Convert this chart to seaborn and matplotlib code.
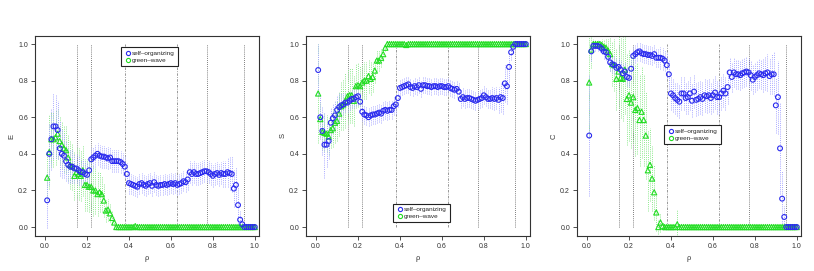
import numpy as np
import matplotlib
matplotlib.use("Agg")
import matplotlib.pyplot as plt
from matplotlib.lines import Line2D
import seaborn as sns

rho = [round(0.01 * i, 2) for i in range(1, 101)]

# E panel
e_self = [0.146, 0.40, 0.48, 0.55, 0.55, 0.53, 0.43, 0.40, 0.39, 0.36,
          0.34, 0.33, 0.33, 0.32, 0.32, 0.31, 0.30, 0.30, 0.29, 0.285,
          0.31, 0.37, 0.38, 0.39, 0.40, 0.39, 0.385, 0.385, 0.38, 0.375,
          0.38, 0.36, 0.36, 0.36, 0.36, 0.355, 0.345, 0.33, 0.29, 0.24,
          0.235, 0.23, 0.225, 0.22, 0.235, 0.24, 0.23, 0.225, 0.235, 0.24,
          0.225, 0.245, 0.23, 0.225, 0.23, 0.23, 0.235, 0.23, 0.235, 0.24,
          0.235, 0.24, 0.23, 0.235, 0.24, 0.25, 0.245, 0.26, 0.30, 0.29,
          0.30, 0.29, 0.29, 0.295, 0.30, 0.305, 0.305, 0.30, 0.29, 0.28,
          0.29, 0.295, 0.285, 0.295, 0.29, 0.29, 0.30, 0.295, 0.29, 0.21,
          0.23, 0.12, 0.04, 0.015, 0.0, 0.0, 0.0, 0.0, 0.0, 0.0]
e_self_err = [0.15, 0.17, 0.17, 0.18, 0.17, 0.16, 0.15, 0.13, 0.12, 0.11,
              0.10, 0.09, 0.09, 0.08, 0.08, 0.08, 0.07, 0.07, 0.07, 0.07,
              0.07, 0.06, 0.06, 0.06, 0.06, 0.06, 0.06, 0.06, 0.06, 0.06,
              0.06, 0.06, 0.06, 0.06, 0.06, 0.06, 0.06, 0.06, 0.06, 0.06,
              0.055, 0.055, 0.055, 0.055, 0.055, 0.055, 0.055, 0.055, 0.055, 0.055,
              0.055, 0.055, 0.055, 0.055, 0.055, 0.055, 0.055, 0.055, 0.055, 0.055,
              0.055, 0.055, 0.055, 0.055, 0.055, 0.055, 0.055, 0.06, 0.06, 0.06,
              0.06, 0.06, 0.06, 0.06, 0.06, 0.06, 0.06, 0.06, 0.06, 0.06,
              0.06, 0.06, 0.06, 0.06, 0.07, 0.07, 0.08, 0.09, 0.10, 0.10,
              0.10, 0.10, 0.05, 0.02, 0.0, 0.0, 0.0, 0.0, 0.0, 0.0]
e_green = [0.27, 0.41, 0.48, 0.48, 0.49, 0.51, 0.47, 0.45, 0.43, 0.42,
           0.38, 0.34, 0.33, 0.28, 0.30, 0.29, 0.28, 0.31, 0.23, 0.23,
           0.22, 0.22, 0.20, 0.20, 0.18, 0.19, 0.18, 0.145, 0.09, 0.095,
           0.075, 0.05, 0.025, 0.0, 0.0, 0.0, 0.0, 0.0, 0.0, 0.0,
           0.0, 0.0, 0.005] + [0.0] * 57
e_green_err = [0.12, 0.20, 0.15, 0.15, 0.15, 0.14, 0.13, 0.13, 0.13, 0.13,
               0.13, 0.13, 0.13, 0.13, 0.14, 0.14, 0.14, 0.14, 0.14, 0.14,
               0.14, 0.14, 0.14, 0.13, 0.12, 0.11, 0.10, 0.09, 0.06, 0.06,
               0.05, 0.04, 0.03, 0.01, 0.0, 0.0, 0.0, 0.0, 0.0, 0.0,
               0.0, 0.0, 0.01] + [0.0] * 57

# S panel
s_self = [0.858, 0.60, 0.525, 0.45, 0.45, 0.47, 0.57, 0.595, 0.61, 0.64,
          0.655, 0.665, 0.67, 0.68, 0.68, 0.69, 0.70, 0.70, 0.71, 0.715,
          0.685, 0.63, 0.615, 0.61, 0.60, 0.61, 0.615, 0.615, 0.62, 0.625,
          0.62, 0.635, 0.64, 0.635, 0.64, 0.64, 0.66, 0.67, 0.705, 0.76,
          0.765, 0.77, 0.775, 0.78, 0.765, 0.76, 0.77, 0.765, 0.775, 0.755,
          0.775, 0.775, 0.77, 0.77, 0.765, 0.77, 0.77, 0.765, 0.77, 0.77,
          0.765, 0.765, 0.77, 0.76, 0.755, 0.75, 0.755, 0.74, 0.70, 0.71,
          0.70, 0.705, 0.705, 0.70, 0.695, 0.69, 0.695, 0.70, 0.705, 0.72,
          0.71, 0.70, 0.70, 0.705, 0.70, 0.705, 0.695, 0.71, 0.705, 0.785,
          0.77, 0.875, 0.955, 0.985, 1.0, 1.0, 1.0, 1.0, 1.0, 1.0]
s_self_err = [0.14, 0.12, 0.13, 0.18, 0.12, 0.10, 0.08, 0.08, 0.08, 0.08,
              0.08, 0.07, 0.06, 0.05, 0.05, 0.05, 0.05, 0.05, 0.05, 0.05,
              0.05, 0.05, 0.05, 0.05, 0.05, 0.05, 0.05, 0.05, 0.05, 0.05,
              0.05, 0.05, 0.05, 0.05, 0.05, 0.05, 0.05, 0.05, 0.05, 0.045,
              0.045, 0.045, 0.045, 0.045, 0.045, 0.045, 0.045, 0.045, 0.045, 0.045,
              0.045, 0.045, 0.045, 0.045, 0.045, 0.045, 0.045, 0.045, 0.045, 0.045,
              0.045, 0.045, 0.045, 0.045, 0.045, 0.045, 0.045, 0.05, 0.05, 0.05,
              0.05, 0.05, 0.05, 0.05, 0.05, 0.05, 0.05, 0.05, 0.05, 0.05,
              0.05, 0.05, 0.05, 0.06, 0.06, 0.06, 0.07, 0.08, 0.09, 0.10,
              0.10, 0.08, 0.04, 0.02, 0.0, 0.0, 0.0, 0.0, 0.0, 0.0]
s_green = [0.73, 0.59, 0.52, 0.515, 0.51, 0.495, 0.53, 0.54, 0.57, 0.58,
           0.62, 0.66, 0.67, 0.69, 0.715, 0.72, 0.72, 0.69, 0.77, 0.775,
           0.77, 0.79, 0.80, 0.80, 0.825, 0.81, 0.82, 0.855, 0.91, 0.91,
           0.925, 0.945, 0.98, 1.0, 1.0, 1.0, 1.0, 1.0, 1.0, 1.0,
           1.0, 1.0, 0.995] + [1.0] * 57
s_green_err = [0.27, 0.10, 0.10, 0.10, 0.10, 0.10, 0.10, 0.10, 0.11, 0.11,
               0.12, 0.13, 0.14, 0.15, 0.15, 0.15, 0.15, 0.14, 0.12, 0.12,
               0.11, 0.10, 0.10, 0.10, 0.09, 0.09, 0.08, 0.07, 0.06, 0.06,
               0.05, 0.04, 0.02, 0.0, 0.0, 0.0, 0.0, 0.0, 0.0, 0.0,
               0.0, 0.0, 0.01] + [0.0] * 57

# C panel
c_self = [0.50, 0.96, 0.99, 0.99, 0.99, 0.985, 0.975, 0.96, 0.955, 0.93,
          0.90, 0.89, 0.885, 0.87, 0.875, 0.86, 0.84, 0.85, 0.82, 0.815,
          0.865, 0.935, 0.945, 0.955, 0.96, 0.95, 0.945, 0.945, 0.94, 0.94,
          0.935, 0.945, 0.925, 0.925, 0.925, 0.92, 0.91, 0.885, 0.835, 0.73,
          0.72, 0.705, 0.695, 0.685, 0.73, 0.73, 0.705, 0.71, 0.73, 0.69,
          0.74, 0.695, 0.70, 0.71, 0.70, 0.72, 0.715, 0.72, 0.705, 0.72,
          0.735, 0.71, 0.71, 0.73, 0.745, 0.73, 0.765, 0.845, 0.82, 0.845,
          0.835, 0.835, 0.83, 0.84, 0.845, 0.85, 0.845, 0.83, 0.805, 0.82,
          0.83, 0.84, 0.835, 0.83, 0.84, 0.845, 0.825, 0.835, 0.835, 0.665,
          0.71, 0.43, 0.155, 0.055, 0.0, 0.0, 0.0, 0.0, 0.0, 0.0]
c_self_err = [0.33, 0.05, 0.03, 0.03, 0.03, 0.03, 0.03, 0.04, 0.04, 0.04,
              0.05, 0.05, 0.05, 0.05, 0.05, 0.05, 0.05, 0.05, 0.05, 0.05,
              0.05, 0.05, 0.05, 0.05, 0.05, 0.05, 0.05, 0.05, 0.05, 0.05,
              0.05, 0.05, 0.05, 0.05, 0.06, 0.06, 0.06, 0.07, 0.08, 0.09,
              0.09, 0.09, 0.09, 0.09, 0.09, 0.09, 0.09, 0.09, 0.09, 0.09,
              0.09, 0.09, 0.09, 0.09, 0.09, 0.09, 0.09, 0.09, 0.09, 0.09,
              0.09, 0.09, 0.09, 0.09, 0.09, 0.09, 0.09, 0.08, 0.08, 0.08,
              0.08, 0.08, 0.08, 0.08, 0.08, 0.08, 0.08, 0.08, 0.08, 0.08,
              0.08, 0.08, 0.08, 0.09, 0.09, 0.10, 0.10, 0.11, 0.12, 0.15,
              0.20, 0.25, 0.15, 0.06, 0.0, 0.0, 0.0, 0.0, 0.0, 0.0]
c_green = [0.79, 0.97, 1.0, 1.0, 1.0, 1.0, 0.995, 0.985, 0.98, 0.965,
           0.945, 0.89, 0.885, 0.81, 0.85, 0.815, 0.81, 0.86, 0.70, 0.72,
           0.68, 0.71, 0.64, 0.65, 0.585, 0.63, 0.585, 0.50, 0.31, 0.34,
           0.265, 0.19, 0.08, 0.0, 0.025, 0.005, 0.0, 0.0, 0.0, 0.0,
           0.0, 0.0, 0.015] + [0.0] * 57
c_green_err = [0.30, 0.10, 0.03, 0.02, 0.02, 0.02, 0.03, 0.04, 0.05, 0.06,
               0.09, 0.12, 0.14, 0.17, 0.20, 0.22, 0.23, 0.24, 0.25, 0.25,
               0.25, 0.25, 0.25, 0.25, 0.25, 0.25, 0.25, 0.24, 0.22, 0.20,
               0.18, 0.15, 0.10, 0.04, 0.05, 0.02, 0.01, 0.0, 0.0, 0.0,
               0.0, 0.0, 0.08] + [0.0] * 57

panels = [
    ("E", e_self, e_self_err, e_green, e_green_err, (0.184, 0.790)),
    ("S", s_self, s_self_err, s_green, s_green_err, (0.518, 0.214)),
    ("C", c_self, c_self_err, c_green, c_green_err, (0.851, 0.502)),
]

vlines_dot = [0.15, 0.22, 0.77, 0.95]
vlines_dash = [0.38, 0.63]

BLUE = "#2b2bee"
GREEN = "#22dd22"
BLUE_ERR = "#a8a8ff"
GREEN_ERR = "#8de88d"

sns.set_style("white")
plt.rcParams["font.family"] = ["Liberation Sans", "DejaVu Sans"]

fig = plt.figure(figsize=(8.14, 2.71), dpi=100)
lefts = [35, 306, 577]
x = np.array(rho)

for (label, sv, se, gv, ge, legpos), lpx in zip(panels, lefts):
    ax = fig.add_axes([lpx / 814, 35 / 271, 224 / 814, 200 / 271])

    for v in vlines_dot:
        ax.plot([v, v], [0, 1], color="#555555", lw=0.6, ls=(0, (1, 1.5)), zorder=1)
    for v in vlines_dash:
        ax.plot([v, v], [0, 1], color="#888888", lw=0.6, ls=(0, (3, 1.5, 1, 1.5)), zorder=1)

    gv_a, ge_a = np.array(gv), np.array(ge)
    sv_a, se_a = np.array(sv), np.array(se)
    ax.vlines(x, gv_a - ge_a, gv_a + ge_a, color=GREEN_ERR, lw=0.7,
              linestyles=(0, (1, 1.2)), zorder=2)
    ax.vlines(x, sv_a - se_a, sv_a + se_a, color=BLUE_ERR, lw=0.7,
              linestyles=(0, (1, 1.2)), zorder=3)

    sns.scatterplot(x=x, y=gv_a, ax=ax, marker="^", s=14, facecolors="none",
                    edgecolor=GREEN, linewidth=0.8, zorder=4)
    sns.scatterplot(x=x, y=sv_a, ax=ax, marker="o", s=12, facecolors="none",
                    edgecolor=BLUE, linewidth=0.8, zorder=5)

    ax.set_xlim(-0.048, 1.02)
    ax.set_ylim(-0.049, 1.044)
    ax.set_xticks([0, 0.2, 0.4, 0.6, 0.8, 1.0])
    ax.set_yticks([0, 0.2, 0.4, 0.6, 0.8, 1.0])
    ax.set_xticklabels(["0.0", "0.2", "0.4", "0.6", "0.8", "1.0"])
    ax.set_yticklabels(["0.0", "0.2", "0.4", "0.6", "0.8", "1.0"])
    ax.tick_params(direction="out", length=3, width=0.6, labelsize=5,
                   colors="#333333", pad=2, bottom=True, left=True)
    for sp in ax.spines.values():
        sp.set_color("#333333")
        sp.set_linewidth(0.8)
    ax.set_xlabel("ρ", fontsize=5.5, color="#333333", labelpad=4)
    ax.set_ylabel(label, fontsize=5.5, color="#333333", labelpad=2)

    handles = [
        Line2D([], [], ls="", marker="o", ms=3.0, mfc="none", mec=BLUE, mew=0.8),
        Line2D([], [], ls="", marker="o", ms=3.0, mfc="none", mec=GREEN, mew=0.8),
    ]
    leg = ax.legend(handles, ["self\u2013organizing", "green\u2013wave"],
                    loc="center", bbox_to_anchor=legpos, bbox_transform=fig.transFigure,
                    fontsize=4.6, frameon=True, fancybox=False, framealpha=1,
                    borderpad=0.5, handletextpad=0.2, handlelength=1.0,
                    labelspacing=0.25, borderaxespad=0)
    leg.get_frame().set_edgecolor("#222222")
    leg.get_frame().set_linewidth(0.8)

fig.savefig("out.png", dpi=100)
